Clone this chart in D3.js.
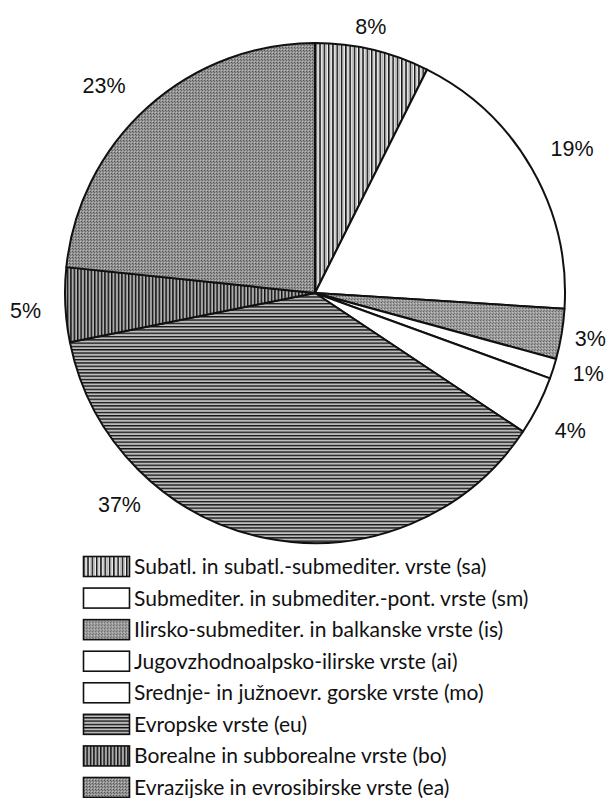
<!DOCTYPE html>
<html>
<head>
<meta charset="utf-8">
<script src="https://cdn.jsdelivr.net/npm/d3@7/dist/d3.min.js"></script>
<style>
html,body{margin:0;padding:0;background:#fff;}
svg{display:block;}
</style>
</head>
<body>
<script>
// ---- data ----
const codes = ["sa","sm","is","ai","mo","eu","bo","ea"];
const categories = [
  "Subatl. in subatl.-submediter. vrste (sa)",
  "Submediter. in submediter.-pont. vrste (sm)",
  "Ilirsko-submediter. in balkanske vrste (is)",
  "Jugovzhodnoalpsko-ilirske vrste (ai)",
  "Srednje- in južnoevr. gorske vrste (mo)",
  "Evropske vrste (eu)",
  "Borealne in subborealne vrste (bo)",
  "Evrazijske in evrosibirske vrste (ea)"
];
const values = [7.4, 18.6, 3.25, 1.3, 3.8, 37.5, 4.8, 23.35];
const percentLabels = ["8%","19%","3%","1%","4%","37%","5%","23%"];

// ---- layout ----
const W = 606, H = 798;
const cx = 315, cy = 293, R = 250;

const svg = d3.select("body").append("svg")
  .attr("width", W).attr("height", H);

const defs = svg.append("defs");

function pat(id, w, h) {
  return defs.append("pattern").attr("id", id).attr("patternUnits","userSpaceOnUse")
    .attr("width", w).attr("height", h);
}
function px(p, x, y, w, h, c) {
  p.append("rect").attr("x", x).attr("y", y).attr("width", w).attr("height", h).attr("fill", c);
}

// vertical lines (sa)
let p = pat("p-sa", 4.3, 10);
px(p, 0, 0, 4.3, 10, "#f4f4f4");
px(p, 0, 0, 1.5, 10, "#111");
px(p, 2.4, 0, 0.9, 10, "#aaa");

// vertical lines (bo) – denser, darker
p = pat("p-bo", 3.4, 10);
px(p, 0, 0, 3.4, 10, "#ddd");
px(p, 0, 0, 1.5, 10, "#111");
px(p, 2.1, 0, 0.8, 10, "#777");

// horizontal lines (eu)
p = pat("p-eu", 10, 3.3);
px(p, 0, 0, 10, 3.3, "#e4e4e4");
px(p, 0, 0, 10, 1.4, "#111");
px(p, 0, 2.1, 10, 0.7, "#888");

// gray stipple (is)
p = pat("p-is", 3, 3);
px(p, 0, 0, 3, 3, "#9c9c9c");
px(p, 0, 0, 1, 1, "#666");
px(p, 2, 1, 1, 1, "#c4c4c4");
px(p, 1, 2, 1, 1, "#7a7a7a");

// gray diagonal texture (ea)
p = pat("p-ea", 3, 3);
px(p, 0, 0, 3, 3, "#939393");
px(p, 0, 0, 1, 1, "#555");
px(p, 1, 1, 1, 1, "#6a6a6a");
px(p, 2, 2, 1, 1, "#bdbdbd");

const fills = {
  sa: "url(#p-sa)", sm: "#fff", is: "url(#p-is)", ai: "#fff",
  mo: "#fff", eu: "url(#p-eu)", bo: "url(#p-bo)", ea: "url(#p-ea)"
};

const data = codes.map((c,i)=>({code:c, value:values[i], label:percentLabels[i], name:categories[i]}));

const pie = d3.pie().sort(null).value(d=>d.value).startAngle(0).endAngle(2*Math.PI);
const arcs = pie(data);
const arc = d3.arc().innerRadius(0).outerRadius(R);

const g = svg.append("g").attr("transform",`translate(${cx},${cy})`);
g.selectAll("path.slice").data(arcs).enter().append("path")
  .attr("class","slice")
  .attr("d", arc)
  .attr("fill", d=>fills[d.data.code])
  .attr("stroke","#111")
  .attr("stroke-width",2)
  .attr("stroke-linejoin","round");

// percent labels placed around the pie
const labelRadius = {sa:272, sm:295, is:279, ai:285, mo:290, eu:288, bo:290, ea:296};
const labelAngleShift = {sa:-1.5, sm:0.5, is:0, ai:-1.2, mo:1.5, eu:31.6, bo:-0.7, ea:-3.4};
const labelPos = arcs.map(d => {
  const a = (d.startAngle + d.endAngle)/2 + labelAngleShift[d.data.code]*Math.PI/180;
  const r = labelRadius[d.data.code];
  return {x: cx + r*Math.sin(a), y: cy - r*Math.cos(a), label: d.data.label};
});
const lab = svg.append("g").attr("class","pct-labels");
labelPos.forEach(lp => {
  lab.append("text")
    .attr("x", lp.x).attr("y", lp.y + 7.5)
    .attr("text-anchor","middle")
    .attr("font-family","Liberation Sans, Arial, sans-serif")
    .attr("font-size", 21.5)
    .attr("fill","#111")
    .text(lp.label);
});

// legend
const legY = d3.scalePoint().domain(codes).range([556, 777]);
const leg = svg.append("g");
const rows = leg.selectAll("g.row").data(data).enter().append("g")
  .attr("class","row")
  .attr("transform", d=>`translate(83,${legY(d.code)})`);
rows.append("rect")
  .attr("x",0.5).attr("y",0.5).attr("width",46).attr("height",20)
  .attr("fill", d=>fills[d.code])
  .attr("stroke","#111").attr("stroke-width",1.6);
rows.append("text")
  .attr("x",51).attr("y",18)
  .attr("font-family","Lato, 'Open Sans', sans-serif")
  .attr("font-size",21)
  .attr("fill","#111")
  .text(d=>d.name);
</script>
</body>
</html>
